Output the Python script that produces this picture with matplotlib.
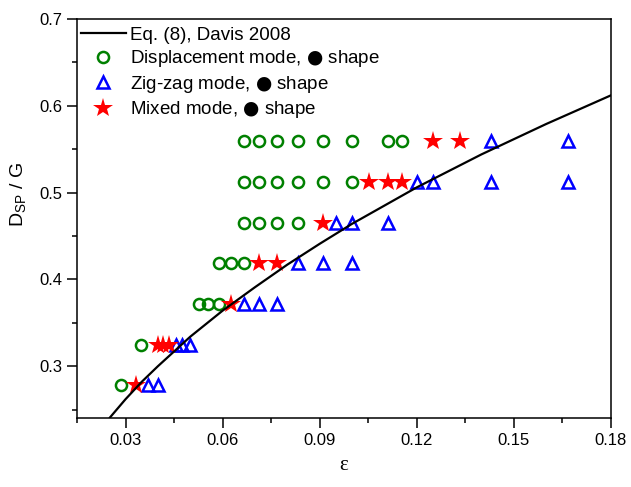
import matplotlib
matplotlib.use("Agg")
import matplotlib.pyplot as plt
from matplotlib.ticker import MultipleLocator
from matplotlib.font_manager import FontProperties

plt.rcParams['font.family'] = ['Liberation Sans', 'DejaVu Sans']
plt.rcParams['mathtext.fontset'] = 'custom'
plt.rcParams['mathtext.rm'] = 'Liberation Sans'
plt.rcParams['mathtext.it'] = 'Liberation Sans:italic'

# Eq. (8), Davis 2008 curve
curve_eps = [0.0252, 0.03, 0.035, 0.04, 0.05, 0.06, 0.07, 0.08, 0.09, 0.10,
             0.12, 0.14, 0.16, 0.18]
curve_dsp = [0.241, 0.262, 0.282, 0.300, 0.334, 0.364, 0.391, 0.417, 0.441,
             0.464, 0.506, 0.544, 0.579, 0.612]

# Displacement mode
disp_eps = [0.0286,
            0.0348,
            0.0526, 0.0556, 0.0588,
            0.0588, 0.0625, 0.0667,
            0.0667, 0.0714, 0.0769, 0.0833,
            0.0667, 0.0714, 0.0769, 0.0833, 0.0909, 0.1000,
            0.0667, 0.0714, 0.0769, 0.0833, 0.0909, 0.1000, 0.1111, 0.1154]
disp_dsp = [0.278,
            0.325,
            0.372, 0.372, 0.372,
            0.419, 0.419, 0.419,
            0.465, 0.465, 0.465, 0.465,
            0.512, 0.512, 0.512, 0.512, 0.512, 0.512,
            0.559, 0.559, 0.559, 0.559, 0.559, 0.559, 0.559, 0.559]

# Zig-zag mode
zig_eps = [0.0370, 0.0400,
           0.0455, 0.0476, 0.0500,
           0.0667, 0.0714, 0.0769,
           0.0833, 0.0909, 0.1000,
           0.0952, 0.1000, 0.1111,
           0.1200, 0.1250, 0.1429, 0.1667,
           0.1429, 0.1667]
zig_dsp = [0.278, 0.278,
           0.325, 0.325, 0.325,
           0.372, 0.372, 0.372,
           0.419, 0.419, 0.419,
           0.465, 0.465, 0.465,
           0.512, 0.512, 0.512, 0.512,
           0.559, 0.559]

# Mixed mode
mix_eps = [0.0333,
           0.0400, 0.0417, 0.0435,
           0.0625,
           0.0714, 0.0769,
           0.0909,
           0.1053, 0.1111, 0.1154,
           0.1250, 0.1333]
mix_dsp = [0.278,
           0.325, 0.325, 0.325,
           0.372,
           0.419, 0.419,
           0.465,
           0.512, 0.512, 0.512,
           0.559, 0.559]

fig = plt.figure(figsize=(6.31, 4.87), dpi=100)
ax = fig.add_axes([0.122, 0.141, 0.846, 0.820])

ax.plot(curve_eps, curve_dsp, color='black', lw=1.6, zorder=5,
        label='Eq. (8), Davis 2008')
ax.plot(disp_eps, disp_dsp, ls='none', marker='o', ms=8, mew=1.8,
        mfc='none', mec='#008000', zorder=3,
        label='Displacement mode, $\u25cf$ shape')
ax.plot(zig_eps, zig_dsp, ls='none', marker='^', ms=9, mew=1.8,
        mfc='none', mec='#0000ff', zorder=3,
        label='Zig-zag mode, $\u25cf$ shape')
ax.plot(mix_eps, mix_dsp, ls='none', marker='*', ms=15, mew=0,
        color='#ff0000', zorder=4,
        label='Mixed mode, $\u25cf$ shape')

ax.set_xlim(0.015, 0.18)
ax.set_ylim(0.24, 0.7)
ax.xaxis.set_minor_locator(MultipleLocator(0.015))
ax.yaxis.set_minor_locator(MultipleLocator(0.05))
ax.set_xticks([0.03, 0.06, 0.09, 0.12, 0.15, 0.18])
ax.set_xticklabels(['0.03', '0.06', '0.09', '0.12', '0.15', '0.18'])
ax.set_yticks([0.3, 0.4, 0.5, 0.6, 0.7])
ax.set_yticklabels(['0.3', '0.4', '0.5', '0.6', '0.7'])

ax.tick_params(which='major', direction='out', length=7, width=1.1,
               labelsize=12, top=False, right=False)
ax.tick_params(which='minor', direction='out', length=3.5, width=1.1,
               top=False, right=False)
for s in ax.spines.values():
    s.set_linewidth(1.1)

ax.set_xlabel('\u03b5', fontsize=15, family=['Liberation Serif', 'DejaVu Serif'],
              labelpad=6)
ax.set_ylabel(r'D$_{\mathrm{SP}}$ / G', fontsize=14)
ax.yaxis.set_label_coords(-0.092, 0.56)

legend_font = FontProperties(family=['Liberation Sans'], size=13.5,
                             math_fontfamily='dejavusans')
ax.legend(loc='upper left', bbox_to_anchor=(0.0, 0.99), frameon=False,
          prop=legend_font, handlelength=2.4, handletextpad=0.25,
          labelspacing=0.24, borderaxespad=0.0, borderpad=0.2)

fig.savefig('out.png', dpi=100)
